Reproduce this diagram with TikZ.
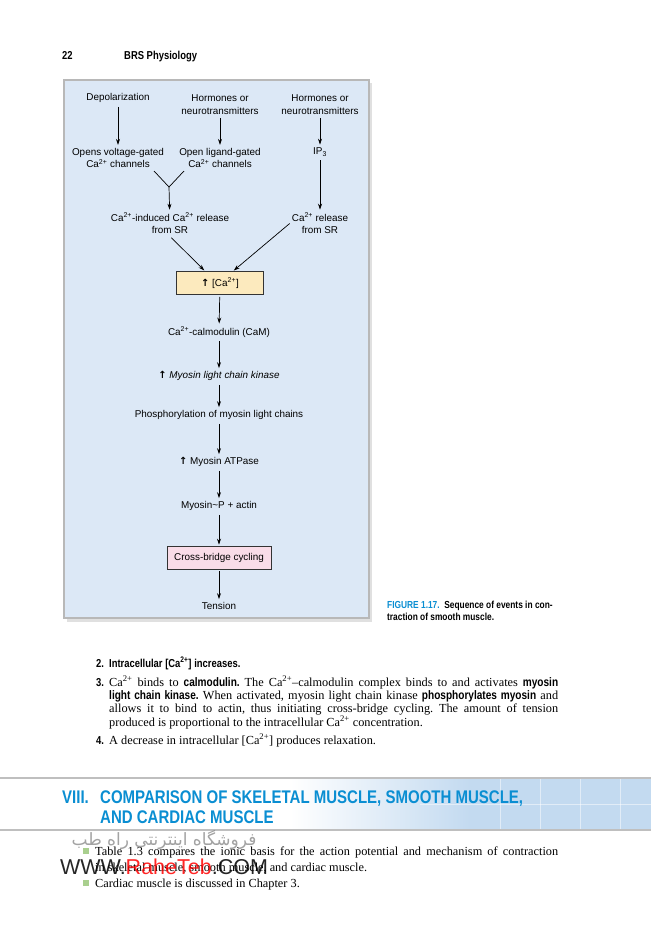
\documentclass[tikz,border=0pt]{standalone}
\usepackage{fontspec}
\setmainfont{Liberation Serif}
\newfontfamily\figfont{Liberation Sans}
\newfontfamily\condsans[FakeStretch=0.82]{Liberation Sans}
\newfontfamily\symfont{DejaVu Sans}
\newfontfamily\arabicfont[Script=Arabic]{DejaVu Sans}
\TeXXeTstate=1
\frenchspacing
\usetikzlibrary{arrows.meta}

\definecolor{figblue}{HTML}{DCE8F6}
\definecolor{riseyellow}{HTML}{FCEABE}
\definecolor{cyclepink}{HTML}{F9DCE8}
\definecolor{headblue}{HTML}{0A8ED2}
\definecolor{bandblue}{HTML}{C3DAF0}
\definecolor{bulletgreen}{HTML}{A9CF8E}

\newcommand\caion{Ca\textsuperscript{2+}}
\newcommand\upar{{\symfont\bfseries ↑}}
\newcommand\kw[1]{{\condsans\bfseries #1}}

\begin{document}
\begin{tikzpicture}[x=1pt,y=-1pt,
		evt/.style={font=\figfont\fontsize{9.9}{12.6}\selectfont, align=center, inner sep=2pt},
		arr/.style={-{Stealth[length=6pt,width=4pt]}, line width=0.7pt, shorten <=2pt, shorten >=1pt},
		hibox/.style={evt, draw=black!80, line width=0.6pt, minimum height=23pt, inner sep=0pt},
		heading/.style={font=\condsans\bfseries\fontsize{18.3}{20}\selectfont, text=headblue, anchor=base west, inner sep=0pt},
		bodytxt/.style={anchor=base west, inner sep=0pt, font=\fontsize{12.3}{13.4}\selectfont},
		numtxt/.style={anchor=base west, inner sep=0pt, font=\condsans\bfseries\fontsize{11.5}{13}\selectfont}]
		\useasboundingbox (0,0) rectangle (651,935);
		\fill[white] (0,0) rectangle (651,935);
		% running head
		\node[numtxt] (pagenum) at (62,59) {22};
		\node[numtxt] (runhead) at (124,59) {BRS Physiology};
		% figure panel
		\fill[black!12] (67,83) rectangle (372,622);
		\draw[fill=figblue, draw=black!28, line width=2pt] (64,80) rectangle (369,618);
		% sources
		\node[evt] (depol) at (118,98) {Depolarization};
		\node[evt] (hormA) at (220,104.5) {Hormones or\\neurotransmitters};
		\node[evt] (hormB) at (320,104.5) {Hormones or\\neurotransmitters};
		\node[evt] (voltch) at (118,158) {Opens voltage-gated\\\caion{} channels};
		\node[evt] (ligch) at (220,158) {Open ligand-gated\\\caion{} channels};
		\node[evt] (ipthree) at (320,152) {IP\textsubscript{3}};
		\node[evt] (cicr) at (170,223.5) {\caion-induced \caion{} release\\from SR};
		\node[evt] (srrel) at (320,223.5) {\caion{} release\\from SR};
		\coordinate (vleft) at (154,171);
		\coordinate (vright) at (184,171);
		\coordinate (merge) at (169,187);
		\draw[arr] (depol) -- (voltch);
		\draw[arr] (hormA) -- (ligch);
		\draw[arr] (hormB) -- (ipthree);
		\draw[line width=0.7pt] (vleft) -- (merge) -- (vright);
		\draw[arr, shorten <=0pt] (merge) -- (cicr);
		\draw[arr] (ipthree) -- (srrel);
		% cascade
		\node[hibox, fill=riseyellow, minimum width=87pt] (carise) at (220,283) {\upar\ [\caion]};
		\draw[arr] (cicr.south) -- ([xshift=-15pt]carise.north);
		\draw[arr, shorten <=0pt] (srrel.west) -- ([xshift=13pt]carise.north);
		\node[evt] (calm) at (219,332) {\caion-calmodulin (CaM)};
		\node[evt] (mlck) at (219,376) {\upar\ \textit{Myosin light chain kinase}};
		\node[evt] (phos) at (219,415) {Phosphorylation of myosin light chains};
		\node[evt] (atpase) at (219,462) {\upar\ Myosin ATPase};
		\node[evt] (myoact) at (219,506) {Myosin\textasciitilde P + actin};
		\node[hibox, fill=cyclepink, minimum width=104pt] (cycling) at (219,557.5) {Cross-bridge cycling};
		\node[evt] (tension) at (219,606) {Tension};
		\draw[arr] (carise) -- (calm);
		\draw[arr] (calm) -- (mlck);
		\draw[arr] (mlck) -- (phos);
		\draw[arr] (phos) -- (atpase);
		\draw[arr] (atpase) -- (myoact);
		\draw[arr] (myoact) -- (cycling);
		\draw[arr] (cycling) -- (tension);
		% caption
		\node[anchor=base west, inner sep=0pt, font=\condsans\bfseries\fontsize{10.2}{12.5}\selectfont] (caption) at (387,608)
			{\parbox[t]{200pt}{\textcolor{headblue}{FIGURE 1.17.}\ \ Sequence of events in con-\\traction of smooth muscle.}};
		% numbered text
		\node[numtxt] (numtwo) at (96,667) {2.};
		\node[numtxt] (itemtwo) at (109,667) {Intracellular [\caion] increases.};
		\node[numtxt] (numthree) at (96,686) {3.};
		\node[bodytxt] (itemthree) at (109,686)
			{\parbox[t]{449pt}{\caion{} binds to \kw{calmodulin.} The \caion--calmodulin complex binds to and activates \kw{myosin}\linebreak
			\kw{light chain kinase.} When activated, myosin light chain kinase \kw{phosphorylates myosin} and\linebreak
			allows it to bind to actin, thus initiating cross-bridge cycling. The amount of tension\linebreak
			produced is proportional to the intracellular \caion{} concentration.}};
		\node[numtxt] (numfour) at (96,744) {4.};
		\node[bodytxt] (itemfour) at (109,744) {A decrease in intracellular [\caion] produces relaxation.};
		% section band
		\shade[left color=white, right color=bandblue] (290,779) rectangle (470,829);
		\fill[bandblue] (470,779) rectangle (651,829);
		\foreach \gx in {500,540,580,620}
			\draw[white, opacity=0.5, line width=0.8pt] (\gx,779) -- (\gx,829);
		\draw[white, opacity=0.5, line width=0.8pt] (420,804) -- (651,804);
		\draw[black!25, line width=1.5pt] (0,778) -- (651,778);
		\draw[black!25, line width=1.5pt] (0,830) -- (651,830);
		\node[heading] (secnum) at (62,803) {VIII.};
		\node[heading] (secone) at (100,803) {COMPARISON OF SKELETAL MUSCLE, SMOOTH MUSCLE,};
		\node[heading] (sectwo) at (100,823) {AND CARDIAC MUSCLE};
		% bullets
		\fill[bulletgreen] (83,848) rectangle (89,854);
		\fill[bulletgreen] (83,880) rectangle (89,886);
		\node[bodytxt, font=\fontsize{12.3}{16}\selectfont] (bulone) at (95,855)
			{\parbox[t]{463pt}{Table 1.3 compares the ionic basis for the action potential and mechanism of contraction\linebreak
			in skeletal muscle, smooth muscle, and cardiac muscle.}};
		\node[bodytxt] (bultwo) at (95,887) {Cardiac muscle is discussed in Chapter 3.};
		% watermark
		\node[inner sep=0pt, text=black!45, opacity=0.8, font=\arabicfont\fontsize{17}{20}\selectfont] (wmfa) at (164,840) {\beginR فروشگاه اینترنتی راه طب\endR};
		\node[inner sep=0pt, font=\figfont\fontsize{21.5}{24}\selectfont, opacity=0.85] (wmurl) at (164,867) {WWW.\textcolor{red}{RaheTeb}.COM};
	\end{tikzpicture}
\end{document}
